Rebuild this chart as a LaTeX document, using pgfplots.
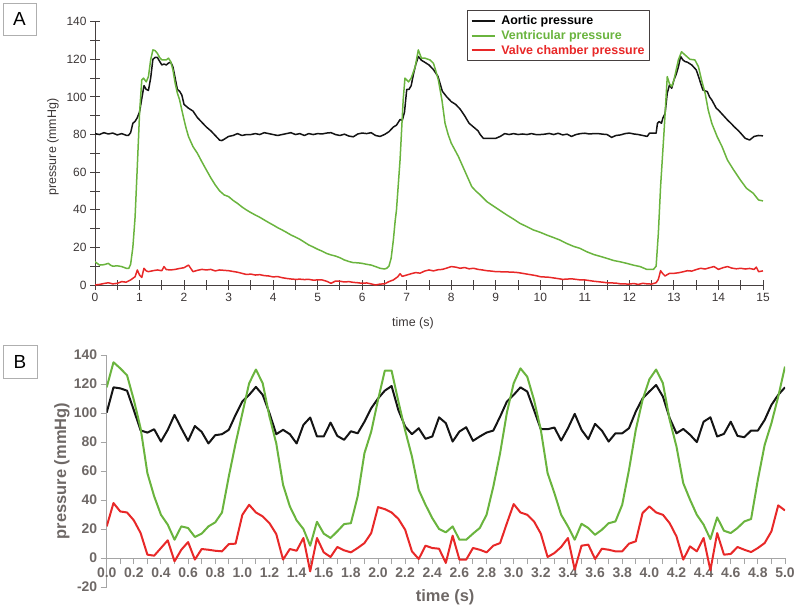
\documentclass[border=0pt]{standalone}
\usepackage{pgfplots}
\pgfplotsset{compat=1.18}
\usepackage{pgfplotstable}
\usepackage{fontspec}
\setmainfont{Liberation Sans}
\definecolor{agreen}{RGB}{106,180,62}
\definecolor{ared}{RGB}{232,40,40}
\definecolor{ablack}{RGB}{20,20,20}
\definecolor{axA}{RGB}{70,64,64}
\definecolor{txA}{RGB}{60,55,55}
\definecolor{axB}{RGB}{165,165,165}
\definecolor{txB}{RGB}{110,104,102}
\definecolor{boxc}{RGB}{175,175,175}

\pgfplotstableread{
t aor ven val
0.00 100.3 117.7 21.8
0.05 117.7 135.0 37.9
0.10 117.0 130.8 32.1
0.15 115.4 126.0 31.4
0.20 102.0 109.0 26.0
0.25 88.0 89.5 17.2
0.30 86.5 58.5 2.3
0.35 88.8 42.5 1.6
0.40 80.3 29.8 6.9
0.45 88.4 23.0 12.2
0.50 98.7 12.6 -2.3
0.55 89.5 21.8 5.7
0.60 80.8 20.7 11.0
0.65 91.0 14.5 -1.1
0.70 87.0 16.8 6.2
0.75 79.0 21.8 5.7
0.80 84.7 24.6 5.0
0.85 85.4 31.4 4.6
0.90 88.4 56.2 9.6
0.95 98.7 79.0 9.9
1.00 108.0 99.8 29.8
1.05 112.5 120.5 36.7
1.10 118.0 130.0 31.4
1.15 112.5 120.5 28.7
1.20 99.8 97.5 24.0
1.25 85.4 79.0 16.5
1.30 88.4 50.5 -1.1
1.35 85.4 35.6 6.2
1.40 79.0 26.0 5.0
1.45 91.8 20.0 13.8
1.50 96.9 8.5 -9.2
1.55 83.8 25.0 13.8
1.60 83.8 16.8 3.9
1.65 93.4 13.8 0.7
1.70 84.2 18.4 7.6
1.75 81.5 23.4 5.3
1.80 87.4 24.0 3.9
1.85 86.0 42.5 6.9
1.90 94.0 72.3 10.3
1.95 103.3 87.2 17.2
2.00 110.0 109.0 35.1
2.05 115.4 129.2 33.7
2.10 118.6 129.2 31.4
2.15 102.0 108.0 27.0
2.20 90.7 88.0 19.5
2.25 85.4 70.0 4.6
2.30 89.5 47.0 -0.7
2.35 82.2 36.7 8.5
2.40 83.8 27.5 6.9
2.45 97.0 20.0 6.4
2.50 93.0 17.7 -3.4
2.55 80.3 21.8 15.4
2.60 87.2 12.6 -1.1
2.65 90.2 12.6 -1.1
2.70 80.8 16.8 6.9
2.75 83.8 20.7 5.7
2.80 86.5 29.8 3.9
2.85 87.9 49.3 8.5
2.90 97.5 72.3 10.3
2.95 107.9 100.3 24.0
3.00 112.5 120.5 37.2
3.05 117.7 130.8 31.4
3.10 114.8 125.0 29.8
3.15 102.0 109.0 25.2
3.20 88.8 88.4 16.8
3.25 88.8 58.5 0.7
3.30 90.0 44.8 3.4
3.35 81.0 29.8 7.6
3.40 89.5 21.8 13.8
3.45 99.4 12.6 -8.0
3.50 88.4 23.6 8.5
3.55 82.0 20.7 9.2
3.60 92.5 16.0 -0.7
3.65 87.9 19.5 6.4
3.70 80.3 24.0 5.7
3.75 86.0 25.2 4.6
3.80 86.0 36.7 4.6
3.85 89.5 60.8 9.9
3.90 101.0 88.4 11.5
3.95 110.0 109.0 31.0
4.00 114.8 123.2 35.6
4.05 119.3 130.0 31.4
4.10 111.3 120.5 29.8
4.15 96.4 95.2 24.0
4.20 86.0 76.9 14.9
4.25 89.0 51.6 -1.1
4.30 85.0 40.2 8.0
4.35 79.9 29.8 4.6
4.40 94.0 23.0 13.8
4.45 97.0 13.0 -8.5
4.50 83.8 28.0 17.2
4.55 85.6 18.8 2.3
4.60 94.0 17.2 2.8
4.65 84.2 20.7 7.6
4.70 83.3 25.2 5.7
4.75 87.9 26.9 4.1
4.80 87.9 54.0 6.9
4.85 95.2 78.0 10.3
4.90 105.6 93.0 18.4
4.95 112.5 111.3 36.3
5.00 117.7 132.0 32.8
}\dataB

\begin{document}
\begin{tikzpicture}
\useasboundingbox (0,0) rectangle (800bp,-610bp);
\draw[boxc, line width=0.8bp] (3bp,-3bp) rectangle (36bp,-35bp);
\node[font=\fontsize{19}{20}\selectfont] at (19.5bp,-19bp) {A};
\draw[boxc, line width=0.8bp] (3bp,-345bp) rectangle (37bp,-378bp);
\node[font=\fontsize{19}{20}\selectfont] at (20bp,-361.5bp) {B};

\begin{axis}[
  at={(95bp,-285bp)}, anchor=south west, scale only axis,
  width=668bp, height=263.3bp,
  xmin=0, xmax=15, ymin=0, ymax=140,
  axis lines=left, axis line style={-, color=axA, line width=0.9bp},
  xtick={0,...,15}, ytick={0,20,...,140},
  minor x tick num=1, minor y tick num=1,
  tick align=center, major tick length=10bp, minor tick length=10bp,
  tick style={color=axA, line width=0.9bp},
  /pgf/number format/assume math mode=true,
  tick label style={font=\fontsize{12}{14}\selectfont, color=txA},
  xlabel={time (s)}, ylabel={pressure (mmHg)},
  label style={font=\fontsize{12.5}{14}\selectfont, color=txA},
  xlabel style={at={(axis description cs:0.476,-0.144)}, anchor=center},
  ylabel style={at={(axis description cs:-0.063,0.524)}, anchor=center},
  legend style={at={(rel axis cs:0.557,1.044)}, anchor=north west,
    draw=axA, line width=0.9bp, font=\fontsize{12.5}{15}\selectfont\bfseries,
    row sep=0.3bp, inner xsep=3bp, inner ysep=3bp, cells={anchor=west}},
  legend cell align=left,
  legend image code/.code={\draw[#1, line width=2bp] (0bp,0bp) -- (23bp,0bp); \path (27bp,0bp);},
  line join=round,
]
\addplot[ablack, line width=1.5bp] coordinates {
(0,80.5)(0.1,80)(0.2,81)(0.3,80.3)(0.4,80.8)(0.5,79.8)(0.6,80.5)(0.7,79.6)(0.75,79.5)(0.8,81)(0.85,86)(0.9,87)(0.95,89)(1.0,92)(1.05,99)(1.1,106)(1.15,104)(1.2,103.5)(1.25,110)(1.3,120)(1.35,121)(1.4,121)(1.45,119)(1.5,117)(1.55,117.5)(1.6,117)(1.65,118)(1.7,118.5)(1.75,116)(1.8,110)(1.85,104)(1.9,103)(1.95,101)(2.0,96)(2.1,94)(2.2,92.5)(2.3,89)(2.4,86.5)(2.5,84)(2.6,82)(2.7,79.5)(2.8,77)(2.85,76.8)(2.9,77.5)(3.0,79)(3.1,79.5)(3.2,80.5)(3.3,79.5)(3.4,80)(3.5,80)(3.6,80.5)(3.7,80)(3.8,81)(3.9,80.5)(4.0,80)(4.1,79.5)(4.2,80)(4.3,80.5)(4.4,81)(4.5,80)(4.6,80.5)(4.7,79.5)(4.8,80.5)(4.9,80)(5.0,80.5)(5.1,80.3)(5.2,80.8)(5.3,81)(5.4,80)(5.5,79.5)(5.6,80.2)(5.7,79.2)(5.8,78.8)(5.9,80.3)(6.0,80.8)(6.1,80.5)(6.2,81)(6.3,79.5)(6.4,79)(6.5,80)(6.6,81.5)(6.7,84)(6.77,85)(6.85,88)(6.9,87.5)(6.95,92)(7.0,104)(7.05,104)(7.1,106)(7.15,112)(7.2,117)(7.26,121.5)(7.33,119.5)(7.4,118.5)(7.5,117)(7.6,114.5)(7.7,111)(7.75,107)(7.8,103)(7.9,100)(8.0,97.5)(8.1,96)(8.2,93.5)(8.3,90)(8.4,86)(8.5,84)(8.6,82)(8.65,80)(8.72,78)(8.8,78)(8.9,78)(9.0,78)(9.1,79)(9.2,80.5)(9.3,80)(9.4,80.5)(9.5,80)(9.6,80.3)(9.7,80)(9.8,80.5)(9.9,80)(10.0,80)(10.1,80.2)(10.2,80.6)(10.3,80)(10.4,80.7)(10.5,79.8)(10.6,80.2)(10.7,79)(10.8,80)(10.9,80.5)(11.0,80.7)(11.1,80.3)(11.2,80.5)(11.3,80.5)(11.4,80.2)(11.5,80)(11.6,78.5)(11.7,79.5)(11.8,79.8)(11.9,80.5)(12.0,80.8)(12.1,80.3)(12.2,80)(12.3,79.5)(12.4,79)(12.45,80.7)(12.6,80.7)(12.63,86)(12.67,86.9)(12.72,86)(12.75,88.7)(12.8,91)(12.85,102)(12.9,106.4)(12.95,104.6)(13.0,109)(13.05,112)(13.1,116)(13.15,121.5)(13.2,119.7)(13.25,118.8)(13.3,118.5)(13.4,117)(13.5,114.4)(13.55,111)(13.6,107.3)(13.65,103.7)(13.75,102.8)(13.8,100)(13.85,98.4)(13.95,94)(14.0,93)(14.1,90.4)(14.2,87.8)(14.3,85.5)(14.35,84.2)(14.45,82)(14.5,80.7)(14.6,78)(14.7,77.1)(14.8,79)(14.9,79.5)(15.0,79.3)
};
\addlegendentry{Aortic pressure}
\addplot[agreen, line width=1.5bp] coordinates {
(0,12.4)(0.05,11.5)(0.1,10.6)(0.2,10.8)(0.3,11.5)(0.35,10.5)(0.4,10)(0.5,10.2)(0.6,9.8)(0.7,8.9)(0.76,8.9)(0.8,11)(0.85,20)(0.9,36)(0.95,63)(1.0,91)(1.05,109)(1.09,110)(1.15,108)(1.2,110.8)(1.25,119.7)(1.3,125)(1.35,124.6)(1.4,123.2)(1.45,121)(1.5,119.7)(1.6,119.7)(1.65,120.6)(1.7,118.8)(1.75,114.4)(1.8,107.3)(1.85,102)(1.9,98.4)(1.95,93)(2.0,87.8)(2.05,83)(2.1,78.9)(2.2,73.6)(2.3,70)(2.4,65.5)(2.5,61.2)(2.6,57)(2.7,53.2)(2.8,50)(2.9,47.9)(3.0,47)(3.1,45)(3.2,43.4)(3.3,41.5)(3.4,39.9)(3.5,38.5)(3.6,37.2)(3.7,36)(3.8,34.6)(3.9,33.2)(4.0,31.9)(4.1,30.5)(4.2,29.3)(4.3,28)(4.4,26.6)(4.5,25.5)(4.6,24.3)(4.7,22.8)(4.8,21.3)(4.9,20.2)(5.0,19)(5.1,18)(5.2,16.8)(5.3,16)(5.4,15.4)(5.5,14.5)(5.6,13.3)(5.7,12.5)(5.8,11.9)(5.9,11.8)(6.0,11.5)(6.1,11)(6.2,10.6)(6.3,9.8)(6.4,8.9)(6.5,8.5)(6.55,8.9)(6.6,10)(6.65,14.2)(6.7,24)(6.74,34)(6.77,40)(6.85,66.5)(6.92,98.4)(6.96,110)(7.04,108)(7.1,110)(7.19,116)(7.26,125)(7.33,120.6)(7.41,120.6)(7.52,119.7)(7.6,117.9)(7.65,114)(7.71,109)(7.79,98.4)(7.86,86)(7.93,80)(8.0,75.4)(8.16,68.3)(8.31,60.3)(8.46,52.3)(8.55,50)(8.65,47.9)(8.8,44.3)(9.02,40.8)(9.25,37.2)(9.4,35)(9.54,32.8)(9.7,31)(9.84,29.3)(10.0,28)(10.14,26.6)(10.3,25.2)(10.44,23.9)(10.6,22)(10.75,20.5)(10.89,19.5)(11.04,17.7)(11.2,16.2)(11.35,15.2)(11.49,14.2)(11.65,13)(11.8,12.3)(11.94,11.5)(12.1,10.5)(12.24,9.8)(12.39,8.3)(12.54,8.3)(12.6,10)(12.65,27.5)(12.7,52.3)(12.78,82.4)(12.85,110.8)(12.9,107)(12.95,105.5)(13.0,109)(13.1,119.7)(13.17,124)(13.25,122.3)(13.36,120)(13.47,119.7)(13.55,116.1)(13.62,109)(13.7,102)(13.77,93)(13.85,86)(13.97,78.9)(14.08,73.6)(14.2,66.5)(14.34,61.2)(14.49,55.9)(14.63,51.4)(14.78,48.8)(14.9,45.2)(15.0,44.7)
};
\addlegendentry{\textcolor{agreen}{Ventricular pressure}}
\addplot[ared, line width=1.5bp] coordinates {
(0,0)(0.1,0.3)(0.2,0.8)(0.3,1.2)(0.4,0.6)(0.5,0.9)(0.6,1.8)(0.7,1.5)(0.8,2.7)(0.9,4.4)(0.95,8)(1.0,5.3)(1.05,4)(1.1,8.9)(1.15,7.5)(1.2,7.1)(1.3,7.6)(1.4,8)(1.5,7.6)(1.55,9.8)(1.6,8.2)(1.7,8)(1.8,8.3)(1.9,8.8)(2.0,9.2)(2.1,10.6)(2.2,7.1)(2.3,7.8)(2.4,8.3)(2.5,8)(2.6,8.3)(2.7,7.5)(2.8,8)(2.9,7.8)(3.0,7.6)(3.1,7.2)(3.2,6.8)(3.3,6.2)(3.4,5.6)(3.5,5.8)(3.6,5.3)(3.7,5.5)(3.8,5)(3.9,4.8)(4.0,4.3)(4.1,4.5)(4.2,3.9)(4.3,3.5)(4.4,3.2)(4.5,3)(4.6,3.1)(4.7,2.9)(4.8,3)(4.9,2.6)(5.0,2.7)(5.1,2.7)(5.2,2)(5.3,0.9)(5.4,2.1)(5.5,2)(5.6,1.6)(5.7,1.8)(5.8,1.4)(5.9,1.2)(6.0,0.9)(6.1,1.1)(6.2,0.6)(6.3,0)(6.4,0.5)(6.5,0.6)(6.6,1.8)(6.7,2.7)(6.8,4.4)(6.85,6)(6.9,4.6)(7.0,5.3)(7.1,6)(7.2,6.6)(7.3,6.3)(7.4,7.4)(7.5,8)(7.6,7.5)(7.7,8.1)(7.8,8.3)(7.9,9)(8.0,9.8)(8.1,9.5)(8.2,8.9)(8.3,9.3)(8.4,8.6)(8.5,8.9)(8.6,8.3)(8.7,8)(8.8,7.6)(8.9,7.4)(9.0,7.1)(9.2,7)(9.4,6.8)(9.5,6.6)(9.7,5.8)(9.9,5)(10.0,4.4)(10.2,4.1)(10.4,3.4)(10.5,3)(10.7,3.3)(10.9,2.7)(11.0,2.7)(11.2,2)(11.4,1.5)(11.5,1.2)(11.7,1)(11.8,0.6)(12.0,0.5)(12.1,0.8)(12.2,0.3)(12.3,0.9)(12.4,0.6)(12.5,0.5)(12.6,1.2)(12.65,3)(12.7,7.6)(12.75,6)(12.8,4.8)(12.9,6.2)(13.0,6.2)(13.1,6.5)(13.2,7)(13.3,7.6)(13.4,7.4)(13.5,8.2)(13.6,8.9)(13.7,8.5)(13.8,9.2)(13.9,9.8)(14.0,8.3)(14.1,9.2)(14.2,9.8)(14.3,9)(14.4,8.6)(14.5,8.9)(14.6,8.5)(14.7,8.8)(14.8,8.3)(14.85,9.5)(14.9,7.1)(15.0,7.5)
};
\addlegendentry{\textcolor{ared}{Valve chamber pressure}}
\end{axis}

\begin{axis}[
  at={(106.7bp,-587bp)}, anchor=south west, scale only axis,
  width=678.3bp, height=232bp,
  xmin=0, xmax=5, ymin=-20, ymax=140,
  axis x line=middle, axis y line=left,
  axis line style={-, color=axB, line width=1bp},
  hide obscured x ticks=false, hide obscured y ticks=false,
  xtick={0,0.2,0.4,0.6,0.8,1.0,1.2,1.4,1.6,1.8,2.0,2.2,2.4,2.6,2.8,3.0,3.2,3.4,3.6,3.8,4.0,4.2,4.4,4.6,4.8,5.0},
  minor x tick num=1,
  ytick={-20,0,20,40,60,80,100,120,140},
  tick align=outside, major tick length=6bp, minor tick length=6bp,
  tick style={color=axB, line width=1bp},
  /pgf/number format/assume math mode=true,
  tick label style={font=\fontsize{14}{16}\selectfont\bfseries, color=txB},
  xticklabel style={/pgf/number format/.cd, fixed, fixed zerofill, precision=1},
  xlabel={time (s)}, ylabel={pressure (mmHg)},
  label style={font=\fontsize{16.5}{18}\selectfont\bfseries, color=txB},
  xlabel style={at={(axis description cs:0.499,-0.043)}, anchor=center},
  ylabel style={at={(axis description cs:-0.066,0.5)}, anchor=center},
  line join=round,
]
\addplot[ablack, line width=2bp] table[x=t, y=aor] {\dataB};
\addplot[agreen, line width=2bp] table[x=t, y=ven] {\dataB};
\addplot[ared, line width=2bp] table[x=t, y=val] {\dataB};
\end{axis}
\end{tikzpicture}
\end{document}
